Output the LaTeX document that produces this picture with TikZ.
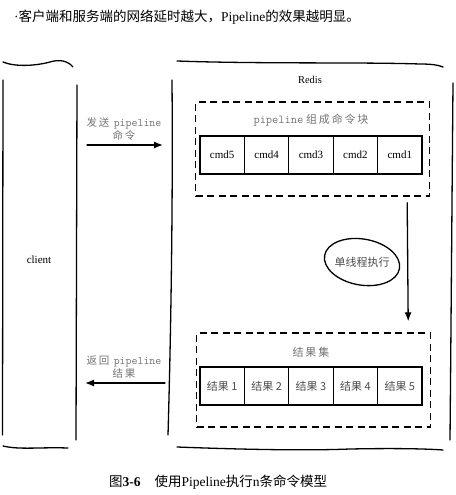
\documentclass[tikz,border=0pt]{standalone}
\usepackage{fontspec}
\setmainfont{Liberation Serif}
\setmonofont[Scale=1.1]{Latin Modern Mono}
\newfontfamily\cjk{Noto Sans CJK SC}
\usetikzlibrary{arrows.meta,shapes.geometric}
\begin{document}
\begin{tikzpicture}[x=1pt,y=-1pt,
  hand/.style={line width=1.3pt,line cap=round,line join=round},
  dashbox/.style={draw,line width=1.4pt,dash pattern=on 7pt off 4.5pt,minimum width=234pt,minimum height=94pt,inner sep=0pt},
  cell/.style={draw,line width=1.3pt,minimum width=44.4pt,minimum height=38pt,inner sep=0pt,font=\fontsize{11}{13}\selectfont},
  rcell/.style={cell,text=black!70,font=\fontsize{11}{13}\selectfont\cjk},
  glabel/.style={text=black!55,font=\fontsize{10.5}{13}\selectfont,align=center,inner sep=0pt},
  arr/.style={hand,-{Latex[length=9pt,width=7pt]}}]
\useasboundingbox (0,0) rectangle (455,495);

% intro and caption
\node[anchor=west,inner sep=0pt,font=\fontsize{13.5}{16}\selectfont] (intro) at (14,17)
  {·{\cjk 客户端和服务端的网络延时越大，}Pipeline{\cjk 的效果越明显。}};
\node[anchor=west,inner sep=0pt,font=\fontsize{13.5}{16}\selectfont] (caption) at (109,482)
  {{\cjk 图}\textbf{3-6}\hspace{14pt}{\cjk 使用}Pipeline{\cjk 执行}n{\cjk 条命令模型}};

% client column
\draw[hand] (3,62) .. controls (15,67) and (35,66) .. (50,62) .. controls (60,59) and (68,61) .. (73,67);
\draw[hand] (3,80) -- (2.5,435);
\draw[hand] (77,85) -- (76,440);
\draw[hand] (3,446) .. controls (20,450) and (40,447) .. (68,448);
\node[font=\fontsize{11}{13}\selectfont] (client) at (39,260) {client};

% Redis column
\draw[hand] (177,61) .. controls (260,64) and (360,62) .. (420,64) .. controls (432,64) and (438,65) .. (443,67);
\draw[hand] (172,80) .. controls (173,200) and (171,330) .. (168,435);
\draw[hand] (453,83) .. controls (452,200) and (451,330) .. (450,440);
\draw[hand] (177,447) .. controls (230,449) and (300,451) .. (350,449) .. controls (400,448) and (430,449) .. (443,450);
\node[font=\fontsize{10.5}{12}\selectfont] (redis) at (310,80) {Redis};

% command block
\node[dashbox] (cmdblock) at (312.5,149) {};
\node[glabel,font=\fontsize{11}{13}\selectfont] (pipe) at (311,120) {\texttt{pipeline} {\cjk 组\,成\,命\,令\,块}};
\node[cell] (cmd5) at (222.2,155) {cmd5};
\node[cell] (cmd4) at (266.6,155) {cmd4};
\node[cell] (cmd3) at (311.0,155) {cmd3};
\node[cell] (cmd2) at (355.4,155) {cmd2};
\node[cell] (cmd1) at (399.8,155) {cmd1};

% execution
\node[text=black!70,font=\fontsize{11}{13}\selectfont\cjk,inner sep=0pt] (exec) at (362,262) {单线程执行};
\draw[hand,rotate around={-10:(exec.center)}] (exec.center) ellipse (38 and 23);

% result block
\node[dashbox] (resblock) at (313.5,380) {};
\node[glabel,font=\fontsize{11}{13}\selectfont\cjk] (resset) at (311,352) {结\,果\,集};
\node[rcell] (res1) at (222.2,386) {结果 1};
\node[rcell] (res2) at (266.6,386) {结果 2};
\node[rcell] (res3) at (311.0,386) {结果 3};
\node[rcell] (res4) at (355.4,386) {结果 4};
\node[rcell] (res5) at (399.8,386) {结果 5};

\draw[arr] ([xshift=-23pt,yshift=-6pt]cmdblock.south east) -- ([xshift=-23pt,yshift=11pt]resblock.north east);

% send / return
\coordinate (sendA) at (87,145);
\coordinate (sendB) at (163,145);
\coordinate (retA) at (165,383);
\coordinate (retB) at (85,383);
\draw[arr] (sendA) -- (sendB);
\draw[arr] (retA) -- (retB);
\node[glabel] (sendlbl) at (124,129.5) {{\cjk 发\,送}\, \texttt{pipeline}\\{\cjk 命\,令}};
\node[glabel] (retlbl) at (124,367) {{\cjk 返\,回}\, \texttt{pipeline}\\{\cjk 结\,果}};
\end{tikzpicture}
\end{document}
